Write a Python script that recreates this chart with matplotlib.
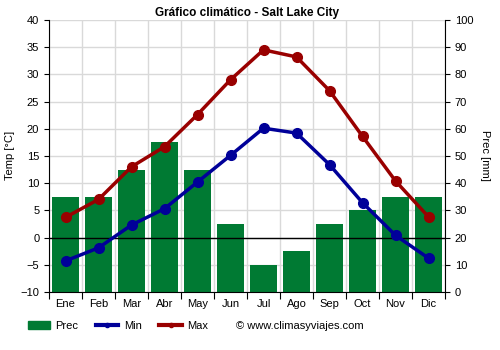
import numpy as np
import matplotlib.pyplot as plt
from matplotlib.patches import Patch
from matplotlib.lines import Line2D

plt.rcParams['font.family'] = ['Liberation Sans', 'DejaVu Sans']

meses = ['Ene', 'Feb', 'Mar', 'Abr', 'May', 'Jun', 'Jul', 'Ago', 'Sep', 'Oct', 'Nov', 'Dic']
prec = [35, 35, 45, 55, 45, 25, 10, 15, 25, 30, 35, 35]
t_min = [-4.3, -1.9, 2.3, 5.3, 10.2, 15.1, 20.1, 19.2, 13.4, 6.4, 0.4, -3.8]
t_max = [3.7, 7.0, 13.0, 16.7, 22.6, 29.0, 34.5, 33.2, 27.0, 18.6, 10.4, 3.8]

verde = '#007a33'
azul = '#000099'
rojo = '#990000'

x = np.arange(len(meses))

fig = plt.figure(figsize=(5, 3.5), dpi=100)
ax = fig.add_axes([0.098, 0.166, 0.792, 0.777])
ax2 = ax.twinx()

# barras de precipitacion detras, temperaturas delante
ax.set_zorder(ax2.get_zorder() + 1)
ax.patch.set_visible(False)

ax2.xaxis.set_visible(True)
ax2.bar(x, prec, width=0.8, color=verde, zorder=2)
ax2.set_ylim(0, 100)
ax2.set_yticks(np.arange(0, 101, 10))
ax2.grid(True, color='#d9d9d9', linewidth=1, zorder=0)
ax2.set_axisbelow(True)

ax.axhline(0, color='black', linewidth=1, zorder=1)
ax.plot(x, t_min, color=azul, linewidth=2.5, marker='o', markersize=7, zorder=3)
ax.plot(x, t_max, color=rojo, linewidth=2.5, marker='o', markersize=7, zorder=3)
ax.set_ylim(-10, 40)
ax.set_yticks(np.arange(-10, 41, 5))
ax.set_xlim(-0.5, 11.5)
ax.set_xticks(np.arange(-0.5, 12, 1))
ax.set_xticklabels([])
ax.set_xticks(x, minor=True)
ax.set_xticklabels(meses, minor=True)

for a in (ax, ax2):
    a.spines['top'].set_visible(False)
    a.tick_params(which='both', labelsize=8, colors='black', direction='out')
ax.tick_params(axis='x', which='minor', length=0, pad=5)
ax.tick_params(axis='x', which='major', length=5)
ax2.spines['left'].set_visible(False)
ax2.spines['bottom'].set_visible(False)
ax.spines['right'].set_visible(False)
ax2.tick_params(axis='x', which='both', length=0, labelbottom=False)

ax.set_ylabel('Temp [°C]', fontsize=8)
ax2.set_ylabel('Prec [mm]', fontsize=8, rotation=270, labelpad=12)
ax.set_title('Gráfico climático - Salt Lake City', fontsize=8.5, fontweight='bold', pad=3)

handles = [
    Patch(color=verde, label='Prec'),
    Line2D([], [], color=azul, linewidth=3, marker='o', markersize=3, label='Min'),
    Line2D([], [], color=rojo, linewidth=3, marker='o', markersize=3, label='Max'),
]
fig.legend(handles=handles, loc='center left', bbox_to_anchor=(0.035, 0.068), ncol=3,
           frameon=False, fontsize=8, handlelength=2.0, columnspacing=1.6, handletextpad=0.5)
fig.text(0.473, 0.068, '© www.climasyviajes.com', fontsize=8, va='center')

fig.savefig('out.png', dpi=100)
